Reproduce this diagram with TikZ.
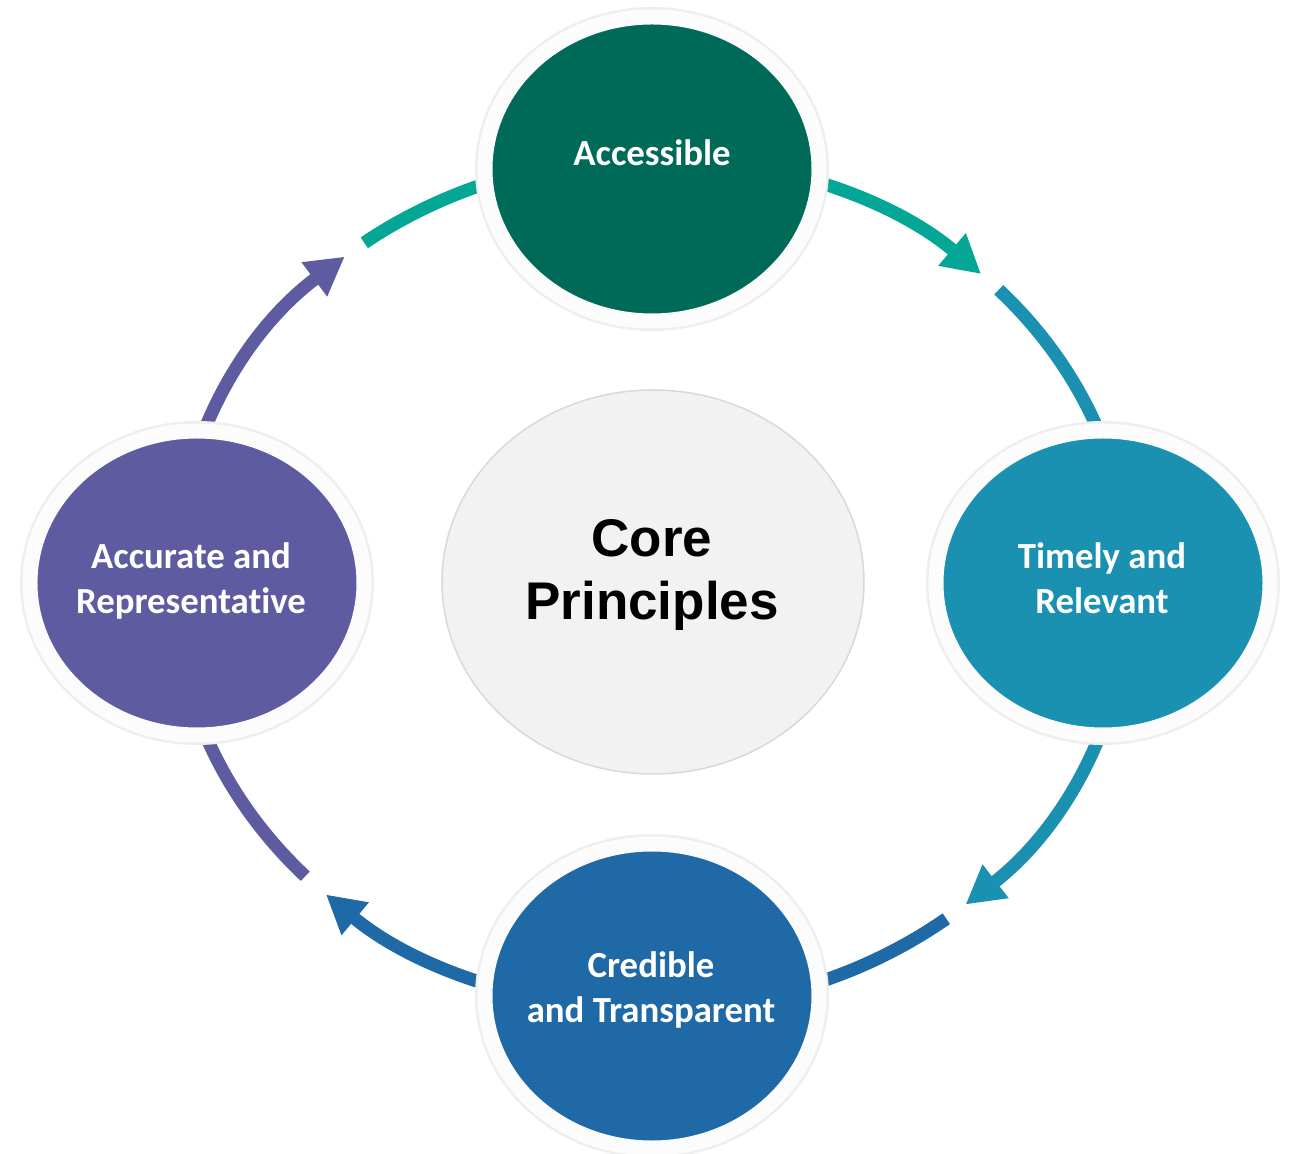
\documentclass[tikz,border=0pt]{standalone}
\usepackage{fontspec}
\setmainfont[Ligatures=NoCommon]{Carlito}
\newfontfamily\corefont{Liberation Sans}
\usetikzlibrary{arrows.meta,shapes.geometric}
\definecolor{accgreen}{HTML}{006A59}
\definecolor{accarrow}{HTML}{04A795}
\definecolor{timteal}{HTML}{1A91B0}
\definecolor{credblue}{HTML}{1F69A6}
\definecolor{accpurple}{HTML}{5E5BA0}
\definecolor{coregray}{HTML}{F2F2F2}
\definecolor{coreline}{HTML}{D9D9D9}
\definecolor{haloedgec}{HTML}{EEEEEE}
\definecolor{halofillc}{HTML}{FCFCFC}
\begin{document}
\begin{tikzpicture}[x=0.5pt, y=0.5pt, line join=miter,
    every node/.style={ellipse, inner sep=0pt, outer sep=0pt},
    principle/.style={minimum width=167pt, minimum height=152pt, draw=halofillc, line width=7.5pt,
        preaction={draw=haloedgec, line width=10pt}},
    caption/.style={rectangle, text=white, align=center, font=\bfseries\fontsize{18.4}{22.5}\selectfont},
    flow/.style={line width=6.5pt, -{Triangle[width=20pt, length=19pt]}},
    trail/.style={line width=6.5pt}]
    \useasboundingbox (-652,-571) rectangle (642,583);

    % points on the ring
    \coordinate (acc-p) at (90:478 and 426);
    \coordinate (tim-p) at (0:478 and 426);
    \coordinate (cred-p) at (-90:478 and 426);
    \coordinate (accu-p) at (180:478 and 426);
    \coordinate (g1-on) at (43.5:478 and 426);
    \coordinate (g2-on) at (-52:478 and 426);
    \coordinate (g3-on) at (-136.5:478 and 426);
    \coordinate (g4-on) at (127:478 and 426);

    \draw[flow, accarrow] (acc-p) arc[start angle=90, end angle=46.5, x radius=478, y radius=426];
    \draw[trail, timteal] (g1-on) arc[start angle=43.5, end angle=0, x radius=478, y radius=426];
    \draw[flow, timteal] (tim-p) arc[start angle=0, end angle=-49, x radius=478, y radius=426];
    \draw[trail, credblue] (g2-on) arc[start angle=-52, end angle=-90, x radius=478, y radius=426];
    \draw[flow, credblue] (cred-p) arc[start angle=-90, end angle=-133, x radius=478, y radius=426];
    \draw[trail, accpurple] (g3-on) arc[start angle=-136.5, end angle=-180, x radius=478, y radius=426];
    \draw[flow, accpurple] (accu-p) arc[start angle=180, end angle=130, x radius=478, y radius=426];
    \draw[trail, accarrow] (g4-on) arc[start angle=127, end angle=90, x radius=478, y radius=426];

    \node[principle, fill=accgreen] (acc) at (0, 414) {};
    \node[principle, fill=timteal] (tim) at (451, 0) {};
    \node[principle, fill=credblue] (cred) at (0, -413) {};
    \node[principle, fill=accpurple] (accu) at (-455, 0) {};
    \node[draw=coreline, fill=coregray, line width=0.75pt, minimum width=211pt, minimum height=192pt] (core) at (1, 1) {};

    \node[caption] (acc-t) at (0, 430) {Accessible};
    \node[caption] (tim-t) at (450, 5) {Timely and\\Relevant};
    \node[caption] (cred-t) at (-1, -407) {Credible\\and Transparent};
    \node[caption] (accu-t) at (-461, 2) {Accurate and\\Representative};
    \node[rectangle, align=center, font=\corefont\bfseries\fontsize{26.5}{31.5}\selectfont] (core-t) at (0, 8) {Core\\Principles};
\end{tikzpicture}
\end{document}
